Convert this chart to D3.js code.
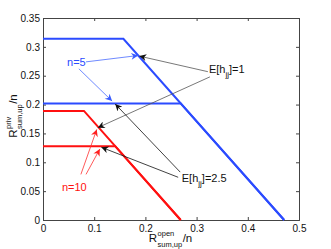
<!DOCTYPE html>
<html>
<head>
<meta charset="utf-8">
<script src="https://cdn.jsdelivr.net/npm/d3@7"></script>
<style>
  body { margin: 0; background: #fff; }
  text { font-family: "Liberation Sans", Arial, sans-serif; }
</style>
</head>
<body>
<div id="chart"></div>
<script>
// tick values
var xTicks = [0, 0.1, 0.2, 0.3, 0.4, 0.5];
var yTicks = [0, 0.05, 0.1, 0.15, 0.2, 0.25, 0.3, 0.35];

// curves, [open, priv] pairs
var n5Low = [[0, 0.314], [0.157, 0.314], [0.471, 0]];
var n5High = [[0, 0.202], [0.269, 0.202], [0.471, 0]];
var n10Low = [[0, 0.189], [0.080, 0.189], [0.269, 0]];
var n10High = [[0, 0.128], [0.141, 0.128], [0.269, 0]];

// annotation arrows: from -> to, in data units
var n5Arrows = [[[0.084, 0.274], [0.186, 0.285]], [[0.070, 0.262], [0.135, 0.206]]];
var e1Arrows = [[[0.322, 0.257], [0.188, 0.284]], [[0.326, 0.248], [0.107, 0.160]]];
var e25Arrows = [[[0.268, 0.083], [0.141, 0.201]], [[0.264, 0.074], [0.114, 0.126]]];
var n10Arrows = [[[0.074, 0.079], [0.105, 0.157]], [[0.084, 0.079], [0.111, 0.123]]];

var width = 331, height = 249;
var margin = {left: 43, right: 32, top: 18, bottom: 29};

var svg = d3.select("#chart").append("svg").attr("width", width).attr("height", height);

var x = d3.scaleLinear().domain([0, 0.5]).range([margin.left, width - margin.right]);
var y = d3.scaleLinear().domain([0, 0.35]).range([height - margin.bottom, margin.top]);

// arrow heads
var defs = svg.append("defs");
function addMarker(id, color) {
  defs.append("marker").attr("id", id).attr("viewBox", "0 0 10 10")
    .attr("refX", 10).attr("refY", 5).attr("markerWidth", 8).attr("markerHeight", 7)
    .attr("markerUnits", "userSpaceOnUse").attr("orient", "auto")
    .append("path").attr("d", "M0,0 L10,5 L0,10 L3,5 Z").attr("fill", color);
}
addMarker("ah-blue", "#3a5cff");
addMarker("ah-black", "#111");
addMarker("ah-red", "#ff2020");

// axes, ticks inside
var fmt = function (d) { return d === 0 ? "0" : d3.format("")(+d.toFixed(2)); };
var axBottom = svg.append("g").attr("transform", "translate(0," + y(0) + ")")
  .call(d3.axisBottom(x).tickValues(xTicks).tickSize(-3).tickPadding(5).tickFormat(fmt));
var axLeft = svg.append("g").attr("transform", "translate(" + x(0) + ",0)")
  .call(d3.axisLeft(y).tickValues(yTicks).tickSize(-3).tickPadding(3).tickFormat(fmt));
var axTop = svg.append("g").attr("transform", "translate(0," + y(0.35) + ")")
  .call(d3.axisTop(x).tickValues(xTicks).tickSize(-3).tickFormat(""));
var axRight = svg.append("g").attr("transform", "translate(" + x(0.5) + ",0)")
  .call(d3.axisRight(y).tickValues(yTicks).tickSize(-3).tickFormat(""));

[axBottom, axLeft, axTop, axRight].forEach(function (g) {
  g.select(".domain").attr("stroke", "#444");
  g.selectAll(".tick line").attr("stroke", "#444");
  g.selectAll(".tick text").attr("font-size", 10).attr("fill", "#111")
    .attr("font-family", "Liberation Sans, Arial, sans-serif");
});

// curves
var line = d3.line().x(function (d) { return x(d[0]); }).y(function (d) { return y(d[1]); });
var curves = [
  {data: n5Low, color: "#2b4bff"},
  {data: n5High, color: "#2b4bff"},
  {data: n10Low, color: "#ff1010"},
  {data: n10High, color: "#ff1010"}
];
svg.selectAll("path.curve").data(curves).enter().append("path")
  .attr("class", "curve").attr("d", function (d) { return line(d.data); })
  .attr("fill", "none").attr("stroke", function (d) { return d.color; })
  .attr("stroke-width", 2);

// annotation arrows
function drawArrows(list, color, marker, w) {
  svg.append("g").selectAll("line").data(list).enter().append("line")
    .attr("x1", function (d) { return x(d[0][0]); }).attr("y1", function (d) { return y(d[0][1]); })
    .attr("x2", function (d) { return x(d[1][0]); }).attr("y2", function (d) { return y(d[1][1]); })
    .attr("stroke", color).attr("stroke-width", w)
    .attr("marker-end", "url(#" + marker + ")");
}
drawArrows(n5Arrows, "#4a6cff", "ah-blue", 0.8);
drawArrows(e1Arrows, "#555", "ah-black", 0.8);
drawArrows(e25Arrows, "#111", "ah-black", 0.8);
drawArrows(n10Arrows, "#ff3030", "ah-red", 0.8);

// labels
svg.append("text").attr("x", x(0.047)).attr("y", y(0.266)).attr("font-size", 11)
  .attr("fill", "#2b4bff").text("n=5");
svg.append("text").attr("x", x(0.037)).attr("y", y(0.050)).attr("font-size", 11)
  .attr("fill", "#ff1010").text("n=10");

function ehLabel(px, py, val) {
  var t = svg.append("text").attr("x", x(px)).attr("y", y(py)).attr("font-size", 11).attr("fill", "#111");
  t.append("tspan").text("E[h");
  t.append("tspan").attr("font-size", 8).attr("dy", 4.5).text("jj");
  t.append("tspan").attr("dy", -4.5).text("]=" + val);
}
ehLabel(0.324, 0.255, "1");
ehLabel(0.271, 0.066, "2.5");

// axis label with stacked super/subscript
function stackedLabel(g, sup, sub) {
  var r = g.append("text").attr("x", 0).attr("y", 0).attr("font-size", 11.5).attr("fill", "#111").text("R");
  var rw = r.node().getComputedTextLength();
  var s1 = g.append("text").attr("x", rw + 0.5).attr("y", -6).attr("font-size", 7.5).attr("fill", "#111").text(sup);
  var s2 = g.append("text").attr("x", rw + 0.5).attr("y", 5).attr("font-size", 7.5).attr("fill", "#111").text(sub);
  var sw = Math.max(s1.node().getComputedTextLength(), s2.node().getComputedTextLength());
  var n = g.append("text").attr("x", rw + sw + 1).attr("y", 0).attr("font-size", 11.5).attr("fill", "#111").text("/n");
  return rw + sw + 1 + n.node().getComputedTextLength();
}
var xl = svg.append("g");
var xw = stackedLabel(xl, "open", "sum,up");
xl.attr("transform", "translate(" + (170.5 - xw / 2) + ",242)");

var yl = svg.append("g");
var yw = stackedLabel(yl, "priv", "sum,up");
yl.attr("transform", "translate(17," + (116 + yw / 2) + ") rotate(-90)");
</script>
</body>
</html>
